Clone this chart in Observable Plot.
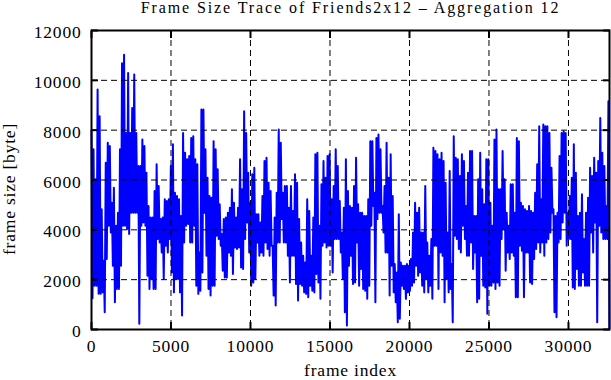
<!DOCTYPE html>
<html><head><meta charset="utf-8">
<script src="https://cdn.jsdelivr.net/npm/d3@7"></script>
<script src="https://cdn.jsdelivr.net/npm/@observablehq/plot@0.6"></script>
<style>
body{margin:0;background:#fff}
.ttl text{letter-spacing:1.9px}
</style>
</head><body><div id="chart"></div>
<script>
const title = "Frame Size Trace of Friends2x12 – Aggregation 12";
const xLabel = "frame index";
const yLabel = "frame size [byte]";
const xTicks = [0, 5000, 10000, 15000, 20000, 25000, 30000];
const yTicks = [0, 2000, 4000, 6000, 8000, 10000, 12000];
const lastFrame = 32580;
const framesPerSample = 128;

// local maxima / minima of the trace, one pair per sample step
const peaks1 = [8000,7230,6030,9630,8560,4830,2760,6690,7490,7360,5090,5690,4160,4690,7230,10690,11030,7890,10290,7890,8890,10230,7890,6560,6560,7630,7360,6290,4960,4490,4490,5560,6630,5760,4430,4490,5230,5160,5230,6560,7430,5490,5360,5230,4560];
const troughs1 = [1250,1760,1760,1430,1430,1490,690,2830,4160,3890,2560,1090,1630,1630,2560,4160,4160,4030,3830,4690,4690,4690,4690,230,4160,4290,4160,2160,1630,2030,1630,1630,3630,3490,3090,2030,3360,3090,3630,2290,1490,2030,2030,1490,560];
const peaks2 = [7890,7090,6830,6960,7690,7760,6830,6630,3090,8830,8830,7230,6090,5360,5290,7560,7230,6430,5030,3830,4430,4490,4690,4890,5630,5090,4490,4890,6830,5630,8760,7890,6290,5090,6230,6490,4630,4630,4290,5360,6760,6890,5890,5560];
const troughs2 = [3490,4160,4230,3490,3490,4160,1760,1430,1560,2290,4690,2960,1630,1360,1760,1760,3760,3630,3360,2360,2090,2090,3090,2960,2230,3290,3230,3290,2490,2430,3630,4290,3090,1760,1890,2030,3490,2960,3090,2960,3490,3230,2960,3360];
const peaks3 = [3360,4490,5490,8030,7490,5490,5760,5760,4890,5760,4760,6230,5890,4430,3490,2960,2690,5230,4760,2960,4490,7030,7090,4160,5830,6760,6090,6960,7030,5230,5760,7230,6560,5160,3890,4890,6830,5560,4960,4890,5760,6890,5030,4690];
const troughs3 = [1360,960,3490,3490,4430,3490,3490,2960,1890,2960,2960,1830,1160,1830,1760,1490,1430,1290,1760,1560,1490,2230,1890,1230,3360,3490,3290,3360,3360,2290,3630,3630,3630,3090,2030,690,160,2560,2960,1830,1890,3490,1760,2430];
const peaks4 = [4690,4560,4560,5230,7560,7560,5490,7690,7830,7230,4960,5760,7490,6090,7030,5360,2630,2290,4630,2690,2560,2560,2630,2560,2830,3890,5090,4690,4890,3890,3890,5760,3490,2960,3630,7290,7160,7030,6830,7090,6760,5890,3890,6360];
const troughs4 = [1630,1560,1230,1760,4160,4960,1090,4430,4690,4690,3890,3090,3090,1360,2560,1490,1090,290,430,1760,1630,1230,1490,1560,1760,1890,2560,2160,2290,1760,1490,2030,1490,1760,1230,3360,3360,1630,3090,2960,1090,2030,1490,1630];
const peaks5 = [2630,7760,6890,6830,6160,7030,6760,4960,6290,7160,7160,4560,4560,6030,7090,5630,5030,6830,6830,5090,4160,7630,8030,5630,5630,7160,6030,4690,4160,5830,5830,4690,7690,7560,5090,4960,4830,4760,4960,4760,4690,5490,6630,8160];
const troughs5 = [290,3760,3630,3230,3090,4160,3630,2960,2960,3490,2430,3090,1090,1230,2960,1760,1690,630,1760,1760,1890,1630,1890,1760,3630,4030,2360,3090,2830,3090,2960,1290,1290,3360,3160,1290,3090,3090,1890,1830,2830,3230,3490,3090];
const peaks6 = [5230,8230,8160,8160,7890,6490,4830,4560,4690,6960,7890,7960,7890,4690,5360,6090,7430,6290,4560,4690,5430,3630,4690,5290,6490,6160,6890,6290,6760,8490,7090,6560,4960,9160];
const troughs6 = [3490,2960,3490,3630,3890,4690,690,490,3490,3630,4290,4690,3360,3630,3630,1690,1630,2430,1760,1760,2290,1760,1760,1760,3890,3090,4290,290,4160,3890,3630,3630,3630,30];

const peaks = [].concat(peaks1, peaks2, peaks3, peaks4, peaks5, peaks6);
const troughs = [].concat(troughs1, troughs2, troughs3, troughs4, troughs5, troughs6);
const trace = [];
peaks.forEach((p, i) => {
  trace.push({frame: i * framesPerSample, size: p});
  trace.push({frame: i * framesPerSample + framesPerSample / 2, size: troughs[i]});
});

const serif = "'Liberation Serif', 'Times New Roman', serif";
const fmt = d => String(d);
const noText = () => "";
const dash = {stroke: "#000", strokeOpacity: 1, strokeWidth: 1, strokeDasharray: "6,4"};

const chart = Plot.plot({
  width: 611, height: 380,
  marginTop: 30, marginRight: 2, marginBottom: 51, marginLeft: 91,
  style: {fontFamily: serif, fontSize: "17.5px", background: "#fff", color: "#000", letterSpacing: "0.8px", overflow: "visible"},
  x: {domain: [0, lastFrame]},
  y: {domain: [0, 12000]},
  marks: [
    Plot.lineY(trace, {x: "frame", y: "size", stroke: "#0000ff", strokeWidth: 2}),
    Plot.gridX(xTicks, dash),
    Plot.gridY(yTicks, dash),
    Plot.frame({stroke: "#000", strokeWidth: 2}),
    Plot.axisX(xTicks, {anchor: "bottom", tickSize: -7, strokeWidth: 2, tickFormat: noText, label: null}),
    Plot.axisX(xTicks, {anchor: "top", tickSize: -7, strokeWidth: 2, tickFormat: noText, label: null}),
    Plot.axisY(yTicks, {anchor: "left", tickSize: -7, strokeWidth: 2, tickFormat: noText, label: null}),
    Plot.axisY(yTicks, {anchor: "right", tickSize: -7, strokeWidth: 2, tickFormat: noText, label: null}),
    Plot.axisX(xTicks, {anchor: "bottom", tickSize: 0, tickPadding: 10, tickFormat: fmt, label: null}),
    Plot.axisY(yTicks, {anchor: "left", tickSize: 0, tickPadding: 10, tickFormat: fmt, label: null, dy: 2}),
    Plot.text([title], {frameAnchor: "top", textAnchor: "middle", lineAnchor: "middle", dy: -22.4, fontSize: 16, className: "ttl"}),
    Plot.text([xLabel], {frameAnchor: "bottom", textAnchor: "middle", lineAnchor: "middle", dy: 41}),
    Plot.text([yLabel], {frameAnchor: "left", textAnchor: "middle", lineAnchor: "middle", rotate: -90, dx: -82.5, dy: 9})
  ]
});
document.getElementById("chart").appendChild(chart);
</script>
</body></html>
